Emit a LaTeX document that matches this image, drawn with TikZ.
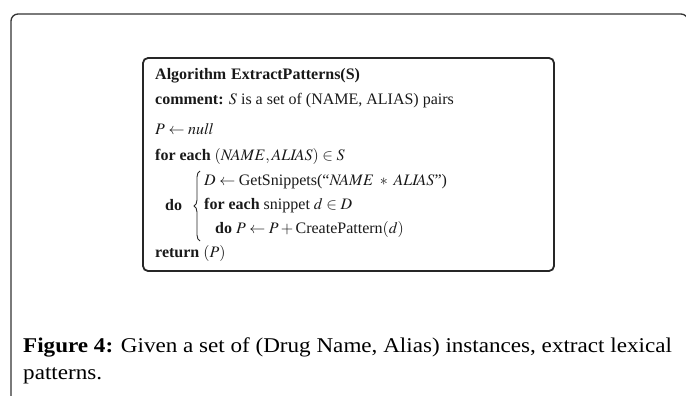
\documentclass[tikz,border=0pt]{standalone}
\usepackage{mathptmx}
\usepackage{fontspec}
\setmainfont{Liberation Serif}
\newfontfamily\capfont[FakeStretch=1.1]{Liberation Serif}
\usetikzlibrary{decorations.pathreplacing}
\begin{document}
\begin{tikzpicture}[x=1pt,y=-1pt,
  alg/.style={anchor=base west, inner sep=0pt, text=black!90, font=\fontsize{16}{18}\selectfont},
  captext/.style={anchor=base west, inner sep=0pt, font=\capfont\fontsize{21}{27}\selectfont},
  outerframe/.style={line width=1.3pt, draw=black!80, rounded corners=7pt},
  algbox/.style={line width=1.8pt, draw=black!85, rounded corners=5pt},
  bigbrace/.style={decorate, decoration={brace, amplitude=6pt}, line width=0.9pt, draw=black!85}]
\useasboundingbox (0,0) rectangle (686,396);
\draw[outerframe] (11,400) -- (11,14) -- (688,14) -- (688,400);
\draw[algbox] (143,58) rectangle (554,271);
\node[alg] (l1) at (155,80) {\textbf{Algorithm}};
\node[alg] (l1b) at (231,80) {\textbf{ExtractPatterns(S)}};
\node[alg] (l2) at (155,104) {\textbf{comment:} $S$ is a set of (NAME, ALIAS) pairs};
\node[alg] (l3) at (155,135) {$P \leftarrow \mathit{null}$};
\node[alg] (l4) at (155,160) {\textbf{for each} $(N\!AME, ALI\!AS) \in S$};
\node[alg] (do1) at (165,210) {\textbf{do}};
\coordinate (bt) at (200,171);
\coordinate (bb) at (200,241);
\draw[bigbrace] (bb) -- (bt);
\node[alg] (l5) at (204,185) {$D \leftarrow{}$GetSnippets(“$N\!AME \;\ast\; ALI\!AS$”)};
\node[alg] (l6) at (204,209) {\textbf{for each} snippet $d \in D$};
\node[alg] (l7) at (215,233) {\textbf{do} $P \leftarrow P + {}$CreatePattern$(d)$};
\node[alg] (l8) at (155,257) {\textbf{return} $(P)$};
\node[captext] (c1) at (23,352) {\textbf{Figure 4:} Given a set of (Drug Name, Alias) instances, extract lexical};
\node[captext] (c2) at (23,379) {patterns.};
\end{tikzpicture}
\end{document}
